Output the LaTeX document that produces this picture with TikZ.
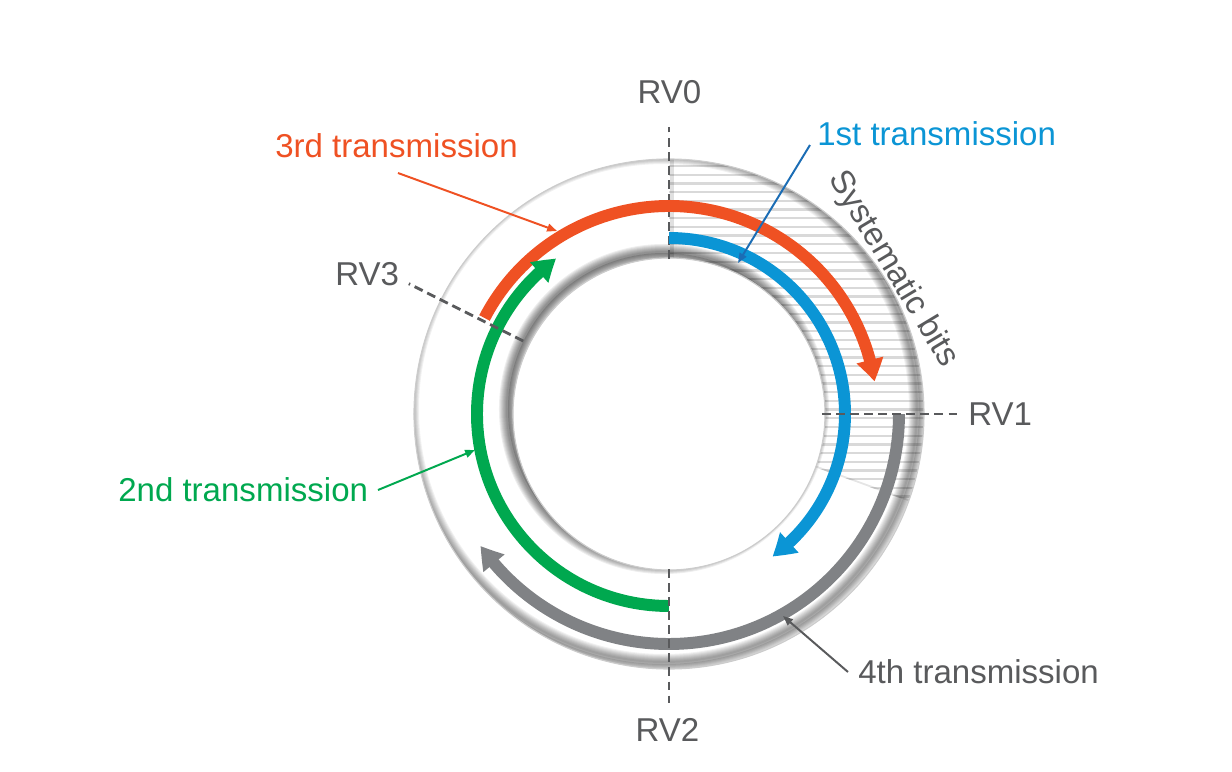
\documentclass[tikz,border=0pt]{standalone}
\usepackage{fontspec}
\setmainfont{Liberation Sans}
\usetikzlibrary{arrows.meta,bending}
\definecolor{cOrange}{HTML}{EF5123}
\definecolor{cBlue}{HTML}{0B95D5}
\definecolor{cBlueDark}{HTML}{1B6DB5}
\definecolor{cGreen}{HTML}{00A84F}
\definecolor{cGrayArc}{HTML}{808285}
\definecolor{cText}{HTML}{595A5C}
\begin{document}
\begin{tikzpicture}[x=0.025cm,y=0.025cm,
  lbl/.style={inner sep=0pt, font=\fontsize{23.5}{28}\selectfont},
  bigarc/.style={line width=8.5pt, -{Triangle[length=15.6pt,width=18.5pt,bend]}},
  leader/.style={line width=1.4pt, -{Triangle[length=7pt,width=5.5pt]}},
  rvline/.style={cText, line width=2pt, dash pattern=on 6.4pt off 3.6pt},
  hatchline/.style={gray!30, line width=1.6pt}]
\useasboundingbox (-669,-357) rectangle (563,414);
% ring body
\fill[white, even odd rule] (0,0) circle[radius=255] (0,0) circle[radius=156];
% hatched systematic bits wedge
\begin{scope}
  \clip (90:156) -- (90:255) arc[start angle=90,end angle=-20,radius=255]
        -- (-20:156) arc[start angle=-20,end angle=90,radius=156] -- cycle;
  \foreach \yy in {-100,-91.3,...,260} \draw[hatchline] (0,\yy) -- (260,\yy);
  \draw[black, opacity=0.12, line width=3pt] (3,150) -- (3,260);
  \draw[black, opacity=0.10, line width=2.5pt] (-20:150) -- (-20:260);
\end{scope}
% inner shading of the ring
\begin{scope}
  \clip (255,0) arc[start angle=0,end angle=360,radius=255]
        -- (156,0) arc[start angle=360,end angle=0,radius=156] -- cycle;
  \fill[black, opacity=0.18] (-5,5) circle[radius=156];
  \fill[black, opacity=0.12, even odd rule] (-5,5) circle[radius=255] (0,0) circle[radius=300];
  \foreach \w in {11.4pt,10pt,8.5pt,7.1pt,5.7pt,4.3pt,2.8pt,1.4pt} {
    \draw[black, opacity=0.055, line width=\w] (-5,5) circle[radius=253];
    \draw[black, opacity=0.065, line width=\w] (-5,5) circle[radius=157];
  }
\end{scope}
\draw[gray!40, line width=0.8pt] (0,0) circle[radius=255];
\draw[gray!40, line width=0.8pt] (0,0) circle[radius=156];
% RV0 dashed line (behind the arcs)
\draw[rvline] (90:155) -- (90:287);
% transmissions
\draw[bigarc, cOrange] (152.5:208) arc[start angle=152.5, end angle=9, radius=208];
\draw[bigarc, cBlue] (90:176) arc[start angle=90, end angle=-54, radius=176];
\draw[bigarc, cGreen] (270:192) arc[start angle=270, end angle=126, radius=192];
\draw[bigarc, cGrayArc] (0:230) arc[start angle=0, end angle=-145, radius=230];
% other RV dashed lines
\draw[rvline] (-90:155) -- (-90:289);
\draw[rvline] (0:153) -- (0:288);
\draw[rvline] (153.4:163) -- (153.4:291);
% labels
\node[lbl, text=cText, anchor=base] (rv0) at (0.5,310) {RV0};
\node[lbl, text=cBlue, anchor=base west] (t1) at (148,269) {1st transmission};
\node[lbl, text=cOrange, anchor=base west] (t3) at (-394,257) {3rd transmission};
\node[lbl, text=cText, anchor=base west] (rv3) at (-334,129) {RV3};
\node[lbl, text=cGreen, anchor=base west] (t2) at (-551,-87) {2nd transmission};
\node[lbl, text=cText, anchor=base west] (rv1) at (299,-11) {RV1};
\node[lbl, text=cText, anchor=base west] (t4) at (189,-269) {4th transmission};
\node[lbl, text=cText, anchor=base] (rv2) at (-1.5,-327) {RV2};
\node[lbl, text=cText, rotate=-59] (sys) at (224,145) {Systematic bits};
% leader lines
\coordinate (l3s) at (-271,241); \coordinate (l3e) at (-112,183);
\coordinate (l1s) at (141,269);  \coordinate (l1e) at (69,151);
\coordinate (l2s) at (-291,-76); \coordinate (l2e) at (-194,-36);
\coordinate (l4s) at (179,-258); \coordinate (l4e) at (114,-202);
\draw[leader, cOrange] (l3s) -- (l3e);
\draw[leader, cBlueDark] (l1s) -- (l1e);
\draw[leader, cGreen] (l2s) -- (l2e);
\draw[leader, cText] (l4s) -- (l4e);
\end{tikzpicture}
\end{document}
